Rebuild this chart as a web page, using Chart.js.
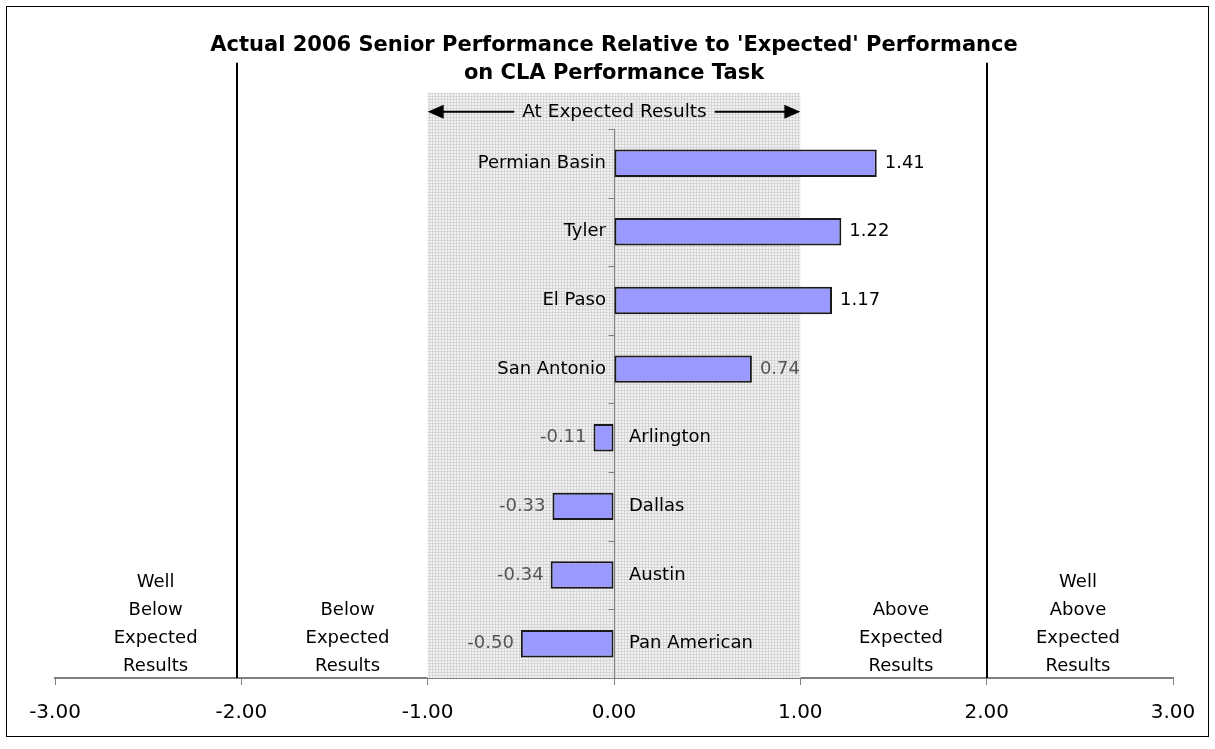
<!DOCTYPE html>
<html>
<head>
<meta charset="utf-8">
<script src="https://cdn.jsdelivr.net/npm/chart.js@4.4.1/dist/chart.umd.min.js"></script>
<style>
  html, body { margin: 0; padding: 0; background: #fff; }
  #wrap { width: 1215px; height: 749px; }
</style>
</head>
<body>
<div id="wrap"><canvas id="chart" width="1215" height="749"></canvas></div>
<script>
// campus names, top to bottom
const campuses = ['Permian Basin', 'Tyler', 'El Paso', 'San Antonio', 'Arlington', 'Dallas', 'Austin', 'Pan American'];
const scores = [1.41, 1.22, 1.17, 0.74, -0.11, -0.33, -0.34, -0.50];
const xTicks = [-3, -2, -1, 0, 1, 2, 3];

// text zones under the bars
const zoneLabels = [
  { at: -2.46, lines: ['Well', 'Below', 'Expected', 'Results'] },
  { at: -1.43, lines: ['Below', 'Expected', 'Results'] },
  { at: 1.54, lines: ['Above', 'Expected', 'Results'] },
  { at: 2.49, lines: ['Well', 'Above', 'Expected', 'Results'] }
];

const FONT = '"DejaVu Sans", Verdana, sans-serif';

function makePattern(ctx) {
  const c = document.createElement('canvas');
  c.width = 3; c.height = 3;
  const p = c.getContext('2d');
  p.fillStyle = '#f2f2f2';
  p.fillRect(0, 0, 3, 3);
  p.fillStyle = '#d6d6d6';
  p.fillRect(0, 0, 3, 1);
  p.fillRect(0, 0, 1, 3);
  return ctx.createPattern(c, 'repeat');
}

const decor = {
  id: 'decor',
  beforeDatasetsDraw(chart) {
    const { ctx, chartArea: a, scales: { x, y } } = chart;
    ctx.save();
    // shaded "expected" band
    ctx.fillStyle = makePattern(ctx);
    ctx.fillRect(x.getPixelForValue(-1), a.top - 36, x.getPixelForValue(1) - x.getPixelForValue(-1), a.bottom - a.top + 36);

    // boundaries at -2 / +2
    ctx.strokeStyle = '#000';
    ctx.lineWidth = 2;
    [-2, 2].forEach(v => {
      const px = Math.round(x.getPixelForValue(v)) + (v < 0 ? -4 : 0);
      ctx.beginPath();
      ctx.moveTo(px, a.top - 66);
      ctx.lineTo(px, a.bottom);
      ctx.stroke();
    });

    // y axis at zero with ticks between categories
    const x0 = Math.round(x.getPixelForValue(0)) + 0.5;
    ctx.strokeStyle = '#808080';
    ctx.lineWidth = 1;
    ctx.beginPath();
    ctx.moveTo(x0, a.top);
    ctx.lineTo(x0, a.bottom);
    const band = y.getPixelForValue(1) - y.getPixelForValue(0);
    for (let i = 0; i <= campuses.length; i++) {
      const py = Math.round(y.getPixelForValue(i) - band / 2) + 0.5;
      ctx.moveTo(x0 - 6, py);
      ctx.lineTo(x0, py);
    }
    ctx.stroke();

    // "At Expected Results" arrow
    const ty = a.top - 17;
    ctx.font = '18.5px ' + FONT;
    ctx.fillStyle = '#000';
    ctx.textAlign = 'center';
    ctx.textBaseline = 'middle';
    const label = 'At Expected Results';
    ctx.fillText(label, x0, ty);
    const half = ctx.measureText(label).width / 2;
    const xl = x.getPixelForValue(-1), xr = x.getPixelForValue(1);
    ctx.strokeStyle = '#000';
    ctx.lineWidth = 2;
    ctx.beginPath();
    ctx.moveTo(xl + 10, ty); ctx.lineTo(x0 - half - 8, ty);
    ctx.moveTo(x0 + half + 8, ty); ctx.lineTo(xr - 10, ty);
    ctx.stroke();
    ctx.beginPath();
    ctx.moveTo(xl, ty); ctx.lineTo(xl + 16, ty - 7); ctx.lineTo(xl + 16, ty + 7); ctx.closePath();
    ctx.moveTo(xr, ty); ctx.lineTo(xr - 16, ty - 7); ctx.lineTo(xr - 16, ty + 7); ctx.closePath();
    ctx.fill();

    // zone captions
    ctx.font = '18px ' + FONT;
    zoneLabels.forEach(z => {
      const cx = x.getPixelForValue(z.at);
      z.lines.forEach((t, i) => {
        ctx.fillText(t, cx, a.bottom - 12 - (z.lines.length - 1 - i) * 28);
      });
    });
    ctx.restore();
  },
  afterDatasetsDraw(chart) {
    const { ctx, scales: { x, y } } = chart;
    const x0 = x.getPixelForValue(0);
    ctx.save();
    ctx.font = '18px ' + FONT;
    ctx.textBaseline = 'middle';
    scores.forEach((v, i) => {
      const py = y.getPixelForValue(i);
      const xe = x.getPixelForValue(v);
      ctx.fillStyle = '#000';
      if (v >= 0) {
        ctx.textAlign = 'right';
        ctx.fillText(campuses[i], x0 - 8, py);
      } else {
        ctx.textAlign = 'left';
        ctx.fillText(campuses[i], x0 + 15, py);
      }
      ctx.fillStyle = Math.abs(v) > 1 ? '#000' : '#555';
      ctx.textAlign = v >= 0 ? 'left' : 'right';
      ctx.fillText(v.toFixed(2), v >= 0 ? xe + 8 : xe - 7, py);
    });
    ctx.restore();
  },
  afterDraw(chart) {
    const ctx = chart.ctx;
    ctx.save();
    ctx.strokeStyle = '#000';
    ctx.lineWidth = 1;
    ctx.strokeRect(6.5, 6.5, 1202, 730);
    ctx.restore();
  }
};

new Chart(document.getElementById('chart'), {
  type: 'bar',
  data: {
    labels: campuses,
    datasets: [{
      data: scores,
      backgroundColor: '#9999ff',
      borderColor: '#1a1a1a',
      borderWidth: 2,
      borderSkipped: false,
      barPercentage: 0.4,
      categoryPercentage: 1
    }]
  },
  options: {
    indexAxis: 'y',
    responsive: false,
    animation: false,
    layout: { padding: { left: 55, right: 42, top: 0, bottom: 8 } },
    plugins: {
      legend: { display: false },
      tooltip: { enabled: false },
      title: {
        display: true,
        text: ["Actual 2006 Senior Performance Relative to 'Expected' Performance", 'on CLA Performance Task'],
        color: '#000',
        font: { family: FONT, size: 21, weight: 'bold', lineHeight: 1.33 },
        padding: { top: 32, bottom: 41 }
      }
    },
    scales: {
      x: {
        min: -3, max: 3,
        afterBuildTicks: s => { s.ticks = xTicks.map(v => ({ value: v })); },
        ticks: {
          color: '#000',
          padding: 16,
          font: { family: FONT, size: 20 },
          callback: v => Number(v).toFixed(2)
        },
        grid: { drawOnChartArea: false, tickLength: 7, color: '#808080' },
        border: { color: '#808080', width: 2 }
      },
      y: { display: false }
    }
  },
  plugins: [decor]
});
</script>
</body>
</html>
